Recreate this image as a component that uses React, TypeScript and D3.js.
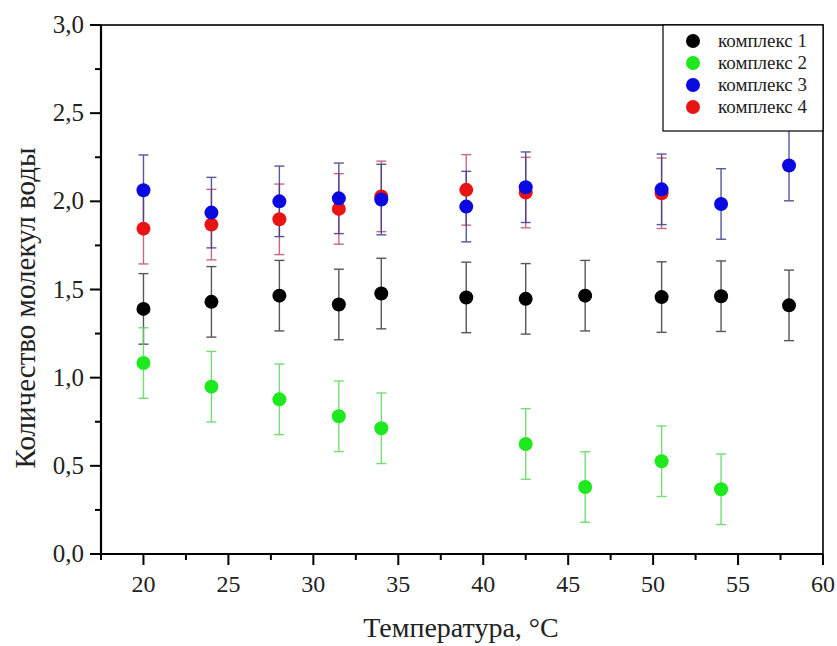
import React from "react";
import * as d3 from "d3";

const xTicks = [20, 25, 30, 35, 40, 45, 50, 55, 60];
const yTicks = [0, 0.5, 1.0, 1.5, 2.0, 2.5, 3.0];

const tempAll = [20, 24, 28, 31.5, 34, 39, 42.5, 46, 50.5, 54, 58];
const complex1 = [1.39, 1.43, 1.465, 1.415, 1.477, 1.455, 1.447, 1.465, 1.457, 1.462, 1.41];
const err1 = [0.2, 0.2, 0.2, 0.2, 0.2, 0.2, 0.2, 0.2, 0.2, 0.2, 0.2];

const temp2 = [20, 24, 28, 31.5, 34, 42.5, 46, 50.5, 54];
const complex2 = [1.083, 0.949, 0.877, 0.781, 0.713, 0.624, 0.38, 0.526, 0.367];
const err2 = [0.2, 0.2, 0.2, 0.2, 0.2, 0.2, 0.2, 0.2, 0.2];

const temp3 = [20, 24, 28, 31.5, 34, 39, 42.5, 50.5, 54, 58];
const complex3 = [2.063, 1.936, 2.0, 2.017, 2.01, 1.97, 2.08, 2.068, 1.985, 2.203];
const err3 = [0.2, 0.2, 0.2, 0.2, 0.2, 0.2, 0.2, 0.2, 0.2, 0.2];

const temp4 = [20, 24, 28, 31.5, 34, 39, 42.5, 50.5];
const complex4 = [1.845, 1.868, 1.898, 1.957, 2.028, 2.065, 2.05, 2.046];
const err4 = [0.2, 0.2, 0.2, 0.2, 0.2, 0.2, 0.2, 0.2];

const seriesNames = ["комплекс 1", "комплекс 2", "комплекс 3", "комплекс 4"];

const FONT = "'Liberation Serif', 'Times New Roman', serif";
const tstyle = { fontFamily: FONT } as React.CSSProperties;

export default function App() {
  const W = 837, H = 646;
  const left = 101, right = 823, top = 25, bottom = 554;
  const x = d3.scaleLinear().domain([17.5, 60]).range([left, right]);
  const y = d3.scaleLinear().domain([0, 3]).range([bottom, top]);

  const series = [
    { name: seriesNames[0], xs: tempAll, ys: complex1, es: err1, fill: "#000000", bar: "#3a3a3a" },
    { name: seriesNames[1], xs: temp2, ys: complex2, es: err2, fill: "#1ee81e", bar: "#5fd85f" },
    { name: seriesNames[3], xs: temp4, ys: complex4, es: err4, fill: "#e81414", bar: "#c0506a" },
    { name: seriesNames[2], xs: temp3, ys: complex3, es: err3, fill: "#0a0ae0", bar: "#3b3b8e" },
  ];
  const legend = [
    { name: seriesNames[0], fill: "#000000" },
    { name: seriesNames[1], fill: "#1ee81e" },
    { name: seriesNames[2], fill: "#0a0ae0" },
    { name: seriesNames[3], fill: "#e81414" },
  ];

  const xMinor = d3.range(17.5, 60.01, 2.5).filter((v) => !xTicks.includes(v));
  const yMinor = d3.range(0.25, 3, 0.5);
  const capW = 5;
  const r = 7;
  const legStep = 22;

  return (
    <svg width={W} height={H} style={{ position: "absolute", left: 0, top: 0, background: "#fff" }}>
      <rect x={0} y={0} width={W} height={H} fill="#fff" />
      {/* error bars */}
      {series.map((s) => (
        <g key={s.name + "e"} stroke={s.bar} strokeWidth={1.4} opacity={0.85}>
          {s.xs.map((xv, i) => {
            const cx = x(xv);
            const y1 = y(s.ys[i] + s.es[i]);
            const y2 = y(s.ys[i] - s.es[i]);
            return (
              <g key={i}>
                <line x1={cx} x2={cx} y1={y1} y2={y2} />
                <line x1={cx - capW} x2={cx + capW} y1={y1} y2={y1} />
                <line x1={cx - capW} x2={cx + capW} y1={y2} y2={y2} />
              </g>
            );
          })}
        </g>
      ))}
      {/* markers */}
      {series.map((s) => (
        <g key={s.name + "m"} fill={s.fill}>
          {s.xs.map((xv, i) => (
            <circle key={i} cx={x(xv)} cy={y(s.ys[i])} r={r} />
          ))}
        </g>
      ))}
      {/* frame */}
      <rect x={left} y={top} width={right - left} height={bottom - top} fill="none" stroke="#000" strokeWidth={1.6} />
      <line x1={left} x2={left} y1={top} y2={bottom} stroke="#000" strokeWidth={2.2} />
      <line x1={left} x2={right} y1={bottom} y2={bottom} stroke="#000" strokeWidth={2.2} />
      {/* x ticks */}
      {xTicks.map((t) => (
        <g key={"xt" + t}>
          <line x1={x(t)} x2={x(t)} y1={bottom} y2={bottom + 11} stroke="#000" strokeWidth={2} />
          <text x={x(t)} y={592} textAnchor="middle" style={tstyle} fontSize={24} fill="#222">
            {t}
          </text>
        </g>
      ))}
      {xMinor.map((t) => (
        <line key={"xm" + t} x1={x(t)} x2={x(t)} y1={bottom} y2={bottom + 6} stroke="#000" strokeWidth={2} />
      ))}
      {/* y ticks */}
      {yTicks.map((t) => (
        <g key={"yt" + t}>
          <line x1={left - 11} x2={left} y1={y(t)} y2={y(t)} stroke="#000" strokeWidth={2} />
          <text x={84} y={y(t) + 8} textAnchor="end" style={tstyle} fontSize={25} fill="#222">
            {d3.format(".1f")(t).replace(".", ",")}
          </text>
        </g>
      ))}
      {yMinor.map((t) => (
        <line key={"ym" + t} x1={left - 6} x2={left} y1={y(t)} y2={y(t)} stroke="#000" strokeWidth={2} />
      ))}
      {/* axis titles */}
      <text
        transform={`translate(35, 308) rotate(-90)`}
        textAnchor="middle"
        style={tstyle}
        fontSize={29}
        fill="#222"
      >
        Количество молекул воды
      </text>
      <text x={461} y={637} textAnchor="middle" style={tstyle} fontSize={28} fill="#222">
        Температура, °C
      </text>
      {/* legend */}
      <g>
        <rect x={663} y={top} width={right - 663} height={106} fill="#fff" stroke="#000" strokeWidth={1.2} />
        {legend.map((l, i) => (
          <g key={l.name}>
            <circle cx={693} cy={41 + i * legStep} r={7} fill={l.fill} />
            <text x={718} y={47 + i * legStep} style={tstyle} fontSize={19} fill="#222">
              {l.name}
            </text>
          </g>
        ))}
      </g>
    </svg>
  );
}
